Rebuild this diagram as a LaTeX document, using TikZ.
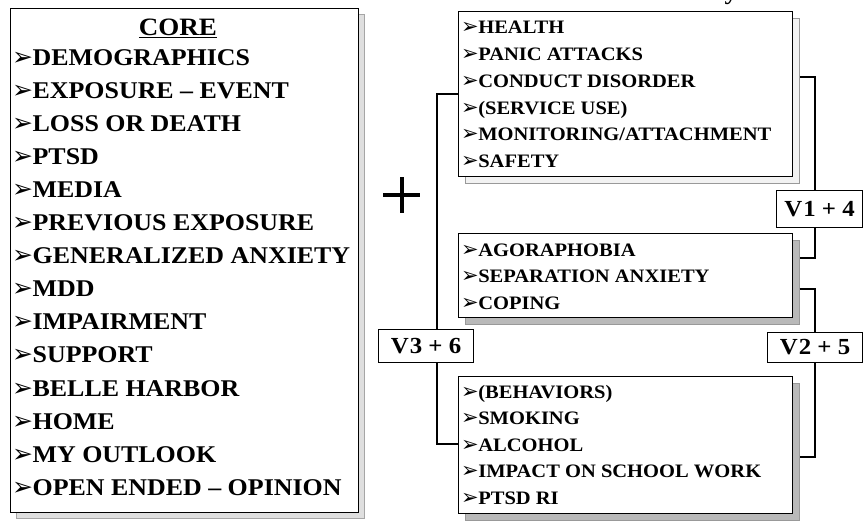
\documentclass[tikz,border=0pt]{standalone}
\usepackage{fontspec}
\setmainfont{Liberation Serif}[FakeStretch=1.08]
\newfontfamily\dejavu{DejaVu Sans}
\newcommand\myarr[1]{{\dejavu\fontsize{#1}{#1}\selectfont ➢}\kern-0.5pt}
\begin{document}
\begin{tikzpicture}[x=1pt,y=-1pt,
  box/.style={draw=black, line width=1.2pt, fill=white, inner sep=0pt, anchor=north west},
  shadowlight/.style={draw=gray!70, line width=0.6pt, fill=gray!25, inner sep=0pt, anchor=north west},
  shadowframe/.style={draw=gray!80, line width=0.8pt, fill=gray!10, inner sep=0pt, anchor=north west},
  shadowdark/.style={draw=gray!80, line width=0.6pt, fill=gray!55, inner sep=0pt, anchor=north west},
  vbox/.style={draw=black, line width=1.1pt, fill=white, inner sep=0pt, anchor=north west,
    font=\fontsize{23}{23}\selectfont\bfseries},
  coretxt/.style={anchor=base west, inner sep=0pt, font=\fontsize{24}{24}\selectfont\bfseries},
  sidetxt/.style={anchor=base west, inner sep=0pt, font=\fontsize{19}{19}\selectfont\bfseries},
  conn/.style={draw=black, line width=1.2pt}
]
\useasboundingbox (0,0) rectangle (866,527);

% fragment of a title cut off above the picture
\node[anchor=base, inner sep=0pt, font=\fontsize{24}{24}\selectfont\bfseries] (ytail) at (731,0) {y};

% ---- left CORE box
\node[shadowlight, minimum width=348pt, minimum height=504pt] (coreS) at (16,14) {};
\node[box, line width=1.4pt, minimum width=348pt, minimum height=504pt] (core) at (10,8) {};
\node[anchor=base, inner sep=0pt, font=\fontsize{25}{25}\selectfont\bfseries] (coretitle) at (178,36) {\underline{CORE}};
\foreach \txt [count=\i] in {DEMOGRAPHICS, EXPOSURE – EVENT, LOSS OR DEATH, PTSD, MEDIA, PREVIOUS EXPOSURE, GENERALIZED ANXIETY, MDD, IMPAIRMENT, SUPPORT, BELLE HARBOR, HOME, MY OUTLOOK, OPEN ENDED – OPINION}
  \node[coretxt] (core\i) at (12,{65+(\i-1)*33.1}) {\myarr{25}\txt};

% ---- plus sign
\draw[line width=4pt] (383,195) -- (420,195) (402,177) -- (402,213);

% ---- top right box
\node[shadowframe, minimum width=334pt, minimum height=165pt] (topS) at (465,18) {};
\node[box, minimum width=334pt, minimum height=165pt] (top) at (458,11) {};
\foreach \txt [count=\i] in {HEALTH, PANIC ATTACKS, CONDUCT DISORDER, {(SERVICE USE)}, MONITORING/ATTACHMENT, SAFETY}
  \node[sidetxt] (top\i) at (461,{34+(\i-1)*26.7}) {\myarr{21}\txt};

% ---- middle right box
\node[shadowdark, minimum width=334pt, minimum height=84pt] (midS) at (465,240) {};
\node[box, minimum width=334pt, minimum height=84pt] (mid) at (458,233) {};
\foreach \txt [count=\i] in {AGORAPHOBIA, SEPARATION ANXIETY, COPING}
  \node[sidetxt] (mid\i) at (461,{256+(\i-1)*26.5}) {\myarr{21}\txt};

% ---- bottom right box
\node[shadowdark, minimum width=334pt, minimum height=137pt] (botS) at (465,383) {};
\node[box, minimum width=334pt, minimum height=137pt] (bot) at (458,376) {};
\foreach \txt [count=\i] in {{(BEHAVIORS)}, SMOKING, ALCOHOL, IMPACT ON SCHOOL WORK, PTSD RI}
  \node[sidetxt] (bot\i) at (461,{398+(\i-1)*26.5}) {\myarr{21}\txt};

% ---- version labels
\node[vbox, minimum width=86pt, minimum height=37pt] (v14) at (776,190) {V\kern1pt 1 + 4};
\node[vbox, minimum width=95pt, minimum height=30pt] (v25) at (767,332) {V\kern1pt 2 + 5};
\node[vbox, minimum width=95pt, minimum height=33pt] (v36) at (378,329) {V\kern1pt 3 + 6};

% ---- connectors
\draw[conn] (topS.east |- 0,77) -- (815,77) -- (815,0 |- v14.north);
\draw[conn] (815,0 |- v14.south) -- (815,258) -- (midS.east |- 0,258);
\draw[conn] (midS.east |- 0,289) -- (815,289) -- (815,0 |- v25.north);
\draw[conn] (815,0 |- v25.south) -- (815,457) -- (botS.east |- 0,457);
\draw[conn] (top.west |- 0,94) -- (437,94) -- (437,0 |- v36.north);
\draw[conn] (437,0 |- v36.south) -- (437,444) -- (bot.west |- 0,444);
\end{tikzpicture}
\end{document}
